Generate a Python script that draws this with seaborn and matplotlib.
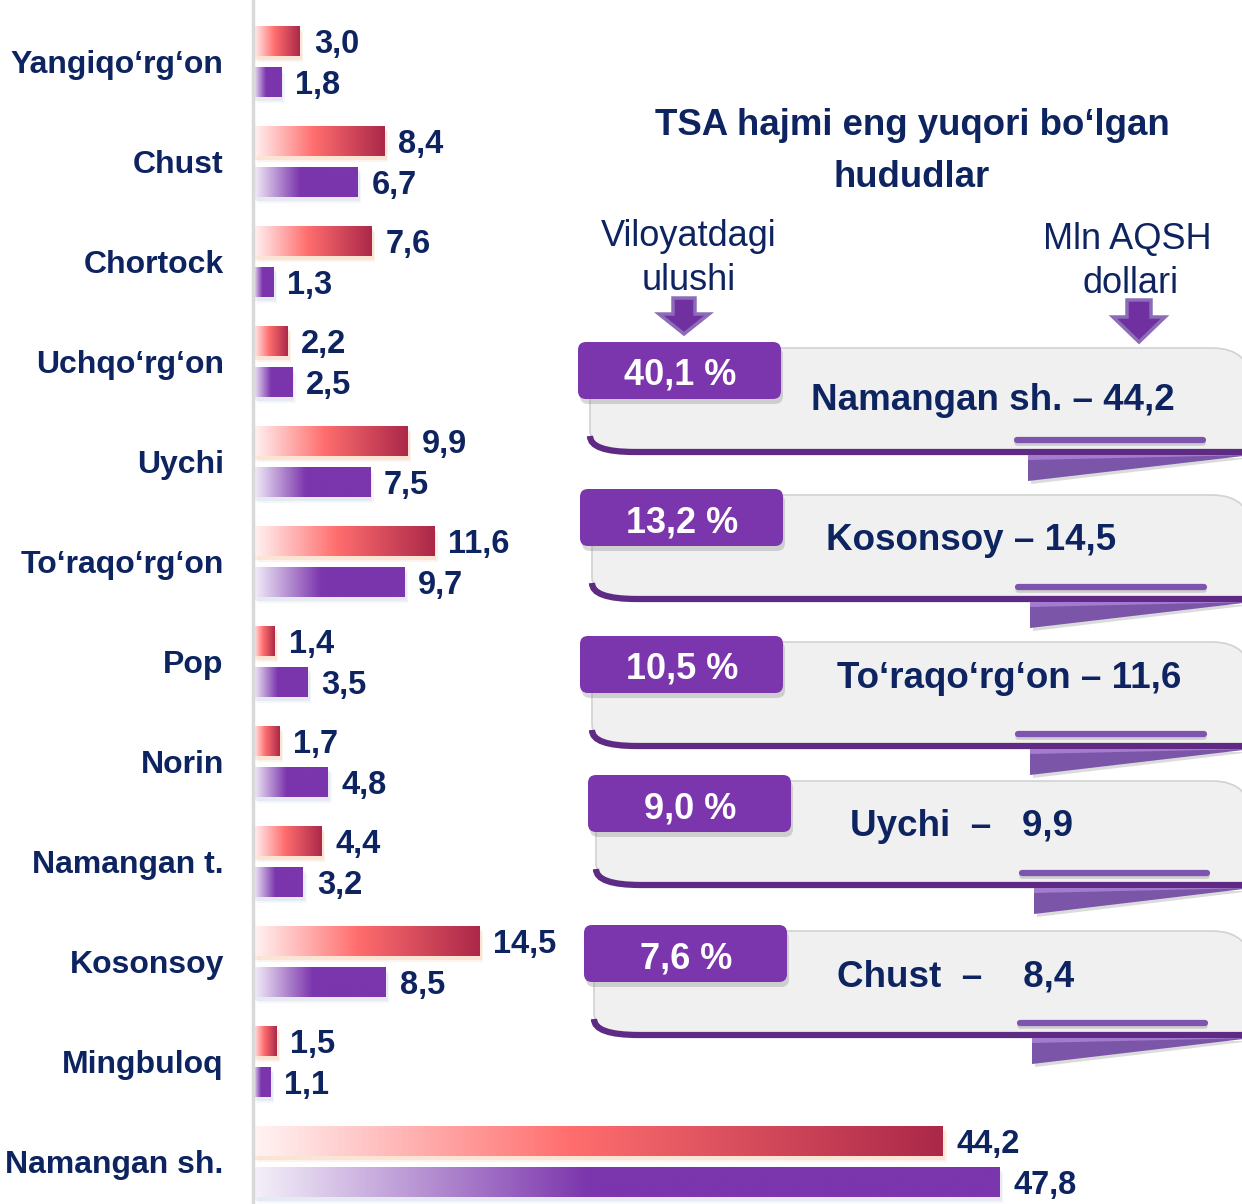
import numpy as np
import pandas as pd
import matplotlib
matplotlib.use("Agg")
import matplotlib.pyplot as plt
import seaborn as sns
from matplotlib.colors import LinearSegmentedColormap
from matplotlib.patches import Polygon, FancyBboxPatch, Rectangle, PathPatch
from matplotlib.path import Path

# ---- data ----
regions = ["Yangiqo‘rg‘on", "Chust", "Chortock", "Uchqo‘rg‘on", "Uychi", "To‘raqo‘rg‘on",
           "Pop", "Norin", "Namangan t.", "Kosonsoy", "Mingbuloq", "Namangan sh."]
red_vals = [3.0, 8.4, 7.6, 2.2, 9.9, 11.6, 1.4, 1.7, 4.4, 14.5, 1.5, 44.2]
purple_vals = [1.8, 6.7, 1.3, 2.5, 7.5, 9.7, 3.5, 4.8, 3.2, 8.5, 1.1, 47.8]
top_share = [40.1, 13.2, 10.5, 9.0, 7.6]   # viloyatdagi ulushi, %
top_sep = [" – ", " – ", " – ", "  –   ", "  –    "]

title_lines = ["TSA hajmi eng yuqori bo‘lgan", "hududlar"]
left_head = ["Viloyatdagi", "ulushi"]
right_head = ["Mln AQSH", "dollari"]

def fmt(v):
    return f"{v:.1f}".replace(".", ",")

# ---- style ----
sns.set_style("white")
plt.rcParams["font.family"] = ["Liberation Sans", "DejaVu Sans"]
NAVY = "#0d2461"
PURPLE = "#7b35ad"

W, H = 1242, 1204
fig = plt.figure(figsize=(W / 100, H / 100), dpi=100)

# ---- bar chart ----
x0_px = 253
px_unit = 15.61
ax = fig.add_axes([x0_px / W, 0, 1 - x0_px / W, 1])

df = pd.DataFrame({
    "region": regions * 2,
    "value": red_vals + purple_vals,
    "series": ["red"] * len(regions) + ["purple"] * len(regions),
})
sns.barplot(data=df, y="region", x="value", hue="series", orient="h",
            palette={"red": "#f06a6a", "purple": PURPLE}, saturation=1,
            width=0.82, gap=0.244, legend=False, ax=ax)

red_cmap = LinearSegmentedColormap.from_list(
    "redg", [(0, "#fff4f4"), (0.46, "#ff6e6e"), (1, "#ab2849")])
pur_cmap = LinearSegmentedColormap.from_list(
    "purg", [(0, "#f4f0f9"), (0.45, PURPLE), (1, PURPLE)])
grad = np.linspace(0, 1, 256).reshape(1, -1)

for cont, cmap, shade, vals in zip(ax.containers, [red_cmap, pur_cmap],
                                   ["#fbd3b8", "#d6dfeb"], [red_vals, purple_vals]):
    for p in cont:
        x, y, w, h = p.get_x(), p.get_y(), p.get_width(), p.get_height()
        p.set_edgecolor("none")
        for k, a in [(6, 0.25), (4, 0.45)]:
            ax.add_patch(Rectangle((x + k * 0.6 / px_unit, y + k * 0.01), w, h,
                                   color=shade, alpha=a, lw=0, zorder=0.5))
        im = ax.imshow(grad, extent=(x, x + w, y + h, y), cmap=cmap, aspect="auto",
                       interpolation="bilinear", zorder=p.get_zorder() + 0.1)
        im.set_clip_path(p)
    labs = ax.bar_label(cont, labels=[fmt(v) for v in vals], padding=10, fontsize=23.5,
                        fontweight="bold", color=NAVY)
    for t in labs:
        t.xyann = (10, -2.2)

ax.set_xlim(0, (W - x0_px) / px_unit)
ax.set_ylim(11.425, -0.615)
ax.set_xlabel("")
ax.set_ylabel("")
ax.set_xticks([])
for s in ["top", "right", "bottom"]:
    ax.spines[s].set_visible(False)
ax.spines["left"].set_color("#d9d9d9")
ax.spines["left"].set_linewidth(2.5)
ax.tick_params(axis="y", length=0, pad=21, labelsize=23, labelcolor=NAVY)
for lbl in ax.get_yticklabels():
    lbl.set_fontweight("bold")

# ---- right-hand panel (pixel coordinates) ----
pan = fig.add_axes([0, 0, 1, 1], zorder=5)
pan.set_xlim(0, W)
pan.set_ylim(H, 0)
pan.axis("off")
pan.patch.set_alpha(0)

def txt(x, base, s, size=26, **kw):
    pan.text(x, base, s, fontsize=size, ha="center", va="baseline", color=NAVY, **kw)

txt(912, 135, title_lines[0], size=26.4, fontweight="bold")
txt(912, 187, title_lines[1], size=26.4, fontweight="bold")
txt(689, 246, left_head[0])
txt(689, 290, left_head[1])
txt(1127, 249, right_head[0])
txt(1131, 293, right_head[1])

def down_arrow(cx, top, head_y, tip, sw, hw):
    pts = [(cx - sw / 2, top), (cx + sw / 2, top), (cx + sw / 2, head_y), (cx + hw / 2, head_y),
           (cx, tip), (cx - hw / 2, head_y), (cx - sw / 2, head_y)]
    pan.add_patch(Polygon(pts, closed=True, fc="#7030a0", ec="#8c6bb8", lw=2.5, joinstyle="miter"))

down_arrow(684, 298, 314, 334, 22, 50)
down_arrow(1139, 300, 317, 342, 24, 52)

# top regions by the red series
order = sorted(range(len(regions)), key=lambda i: red_vals[i], reverse=True)[:5]

tab_x = [578, 580, 580, 588, 584]
tab_y = [342, 489, 636, 775, 925]
box_x = [590, 592, 592, 596, 594]
text_cx = [993, 971, 1009, 962, 956]
text_base = [410, 550, 688, 836, 986]
tri_x = [1028, 1030, 1030, 1034, 1032]
under_x = [(1017, 1203), (1018, 1204), (1018, 1204), (1022, 1207), (1020, 1205)]

for n, i in enumerate(order):
    tx, ty, bx = tab_x[n], tab_y[n], box_x[n]
    top, bot = ty + 6, ty + 110
    R = 1252
    verts = [(bx, top), (R - 40, top), (R, top), (R, top + 40), (R, bot),
             (bx + 45, bot), (bx, bot), (bx, bot - 22), (bx, top)]
    codes = [Path.MOVETO, Path.LINETO, Path.CURVE3, Path.CURVE3, Path.LINETO,
             Path.LINETO, Path.CURVE3, Path.CURVE3, Path.CLOSEPOLY]
    pan.add_patch(PathPatch(Path(verts, codes), fc="#f0f0f0", ec="#d2d2d2", lw=1.2))
    # purple bottom edge
    lv = [(bx, bot - 16), (bx, bot), (bx + 45, bot), (R, bot)]
    lc = [Path.MOVETO, Path.CURVE3, Path.CURVE3, Path.LINETO]
    pan.add_patch(PathPatch(Path(lv, lc), fc="none", ec="#5e2a84", lw=4.5, capstyle="butt"))
    # underline
    ux0, ux1 = under_x[n]
    pan.plot([ux0, ux1], [bot - 9, bot - 9], lw=4, color="#b5b5b5", alpha=0.6,
             solid_capstyle="round")
    pan.plot([ux0, ux1], [bot - 12, bot - 12], lw=4.5, color="#7d55ae",
             solid_capstyle="round")
    # folded corner
    tr = tri_x[n]
    pan.add_patch(Polygon([(tr + 3, bot + 6), (R, bot + 6), (tr + 3, bot + 32)],
                          fc="#9a9a9a", alpha=0.35, lw=0))
    pan.add_patch(Polygon([(tr, bot + 3), (R, bot + 3), (tr, bot + 29)], fc="#7a55a8", lw=0))
    pan.add_patch(Polygon([(tr, bot + 3), (R, bot + 3), (tr, bot + 8)], fc="#a47ccf", lw=0))
    # tab
    pan.add_patch(FancyBboxPatch((tx + 2, ty + 5), 203, 57, boxstyle="round,pad=0,rounding_size=8",
                                 fc="#808080", alpha=0.3, ec="none"))
    pan.add_patch(FancyBboxPatch((tx, ty), 203, 57, boxstyle="round,pad=0,rounding_size=8",
                                 fc=PURPLE, ec="none"))
    pan.text(tx + 102, ty + 43, f"{fmt(top_share[n])} %", fontsize=26, fontweight="bold",
             color="white", ha="center", va="baseline")
    txt(text_cx[n], text_base[n], f"{regions[i]}{top_sep[n]}{fmt(red_vals[i])}",
        size=26.5, fontweight="bold")

fig.savefig("out.png", dpi=100)
